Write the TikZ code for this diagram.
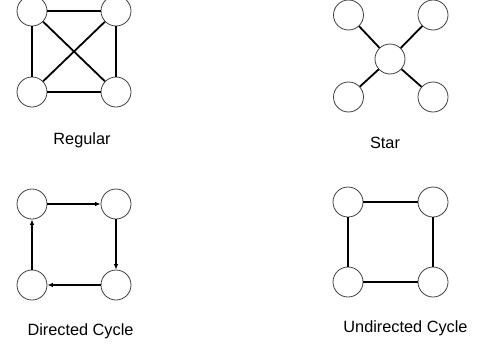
\documentclass[tikz,border=0pt]{standalone}
\usepackage{fontspec}
\setmainfont{Liberation Sans}
\usetikzlibrary{arrows.meta}
\begin{document}
\begin{tikzpicture}[x=1pt,y=-1pt,
  vtx/.style={circle,draw=black!75,line width=0.8pt,fill=white,minimum size=30pt,inner sep=0pt},
  edge/.style={line width=1.8pt,black},
  arc/.style={line width=1.8pt,black,-{Latex[length=5.5pt,width=4.5pt]}},
  lbl/.style={font=\fontsize{16.3}{19}\selectfont,anchor=base,inner sep=0pt}]
\useasboundingbox (0,0) rectangle (478,343);
% Regular
\node[vtx] (r1) at (32,11) {};
\node[vtx] (r2) at (116,11) {};
\node[vtx] (r3) at (32,92) {};
\node[vtx] (r4) at (116,92) {};
\draw[edge] (r1) -- (r2);
\draw[edge] (r2) -- (r4);
\draw[edge] (r4) -- (r3);
\draw[edge] (r3) -- (r1);
\draw[edge] (r1) -- (r4);
\draw[edge] (r2) -- (r3);
\node[lbl] (rl) at (82,144) {Regular};
% Star
\node[vtx] (sc) at (390,59) {};
\node[vtx] (s1) at (348.5,15) {};
\node[vtx] (s2) at (433,15) {};
\node[vtx] (s3) at (348.5,97) {};
\node[vtx] (s4) at (433,97) {};
\draw[edge] (sc) -- (s1);
\draw[edge] (sc) -- (s2);
\draw[edge] (sc) -- (s3);
\draw[edge] (sc) -- (s4);
\node[lbl] (sl) at (385,148) {Star};
% Directed cycle
\node[vtx] (d1) at (32,204) {};
\node[vtx] (d2) at (116,204) {};
\node[vtx] (d3) at (32,285) {};
\node[vtx] (d4) at (116,285) {};
\draw[arc] (d1) -- (d2);
\draw[arc] (d2) -- (d4);
\draw[arc] (d4) -- (d3);
\draw[arc] (d3) -- (d1);
\node[lbl] (dl) at (80.5,335.5) {Directed Cycle};
% Undirected cycle
\node[vtx] (u1) at (348,202) {};
\node[vtx] (u2) at (433,202) {};
\node[vtx] (u3) at (348,282) {};
\node[vtx] (u4) at (433,282) {};
\draw[edge] (u1) -- (u2);
\draw[edge] (u2) -- (u4);
\draw[edge] (u4) -- (u3);
\draw[edge] (u3) -- (u1);
\node[lbl] (ul) at (405.5,332.5) {Undirected Cycle};
\end{tikzpicture}
\end{document}
